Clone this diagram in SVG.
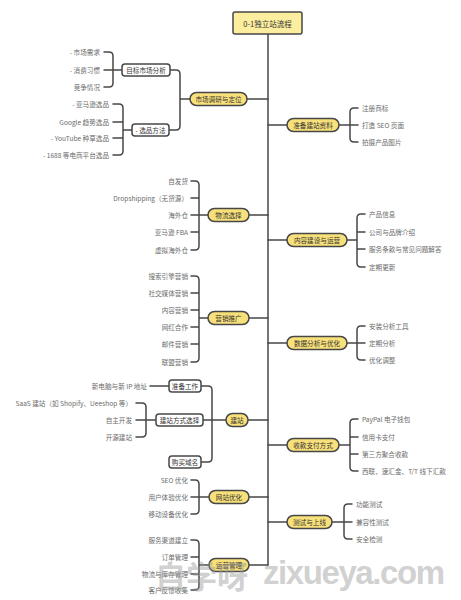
<svg xmlns="http://www.w3.org/2000/svg" width="461" height="600" viewBox="0 0 461 600">
<style>
.ln{fill:none;stroke:#474747;stroke-width:1.5;stroke-linecap:round;stroke-linejoin:round}
.pill{fill:#f8e07a;stroke:#474747;stroke-width:1.5}
.box{fill:#fff;stroke:#474747;stroke-width:1.5}
.root{fill:#fcee9e;stroke:#474747;stroke-width:1.5}
text{font-family:"Noto Sans CJK SC","Noto Sans",sans-serif;font-size:6.6px;dominant-baseline:central}
.pt{fill:#333;text-anchor:middle}
.c{fill:#6b6b6b}
.l{text-anchor:end}
.wm{fill:#9a9a9a;opacity:0.45;dominant-baseline:auto}
</style>
<rect width="461" height="600" fill="#fff"/>
<g id="connectors">
<path class="ln" d="M268 34 V565"/>
<path class="ln" d="M247 99 H268 M249 215 H268 M249 318 H268 M248 420 H268 M249 497 H268 M249 565 H268"/>
<path class="ln" d="M268 125 H287 M268 240 H287 M268 343 H287 M268 445 H287 M268 522 H287"/>
<path class="ln" d="M170 70 H176 Q180 70 180 74 V126 Q180 130 176 130 H169 M180 99 H190"/>
<path class="ln" d="M104 52 H109 Q113 52 113 56 V83 Q113 87 109 87 H104 M104 70 H122"/>
<path class="ln" d="M113 104 H119 Q123 104 123 108 V151 Q123 155 119 155 H113 M113 122 H123 M113 138 H123 M123 130 H132"/>
<path class="ln" d="M191 181 H195 Q199 181 199 185 V246 Q199 250 195 250 H191 M191 198 H199 M191 215 H208 M191 232 H199"/>
<path class="ln" d="M191 276 H195 Q199 276 199 280 V358 Q199 362 195 362 H191 M191 293 H199 M191 310 H199 M191 327 H199 M191 344 H199 M199 318 H208"/>
<path class="ln" d="M201 386 H208 Q212 386 212 390 V458 Q212 462 208 462 H201 M203 420 H226"/>
<path class="ln" d="M150 386 H169"/>
<path class="ln" d="M136 403 H142 Q146 403 146 407 V433 Q146 437 142 437 H136 M136 420 H156"/>
<path class="ln" d="M191 480 H195 Q199 480 199 484 V510 Q199 514 195 514 H191 M191 497 H209"/>
<path class="ln" d="M191 540 H195 Q199 540 199 544 V586 Q199 590 195 590 H191 M191 557 H199 M191 574 H199 M199 565 H209"/>
<path class="ln" d="M358 108 H354 Q350 108 350 112 V138 Q350 142 354 142 H358 M339 125 H358"/>
<path class="ln" d="M365 214 H361 Q357 214 357 218 V263 Q357 267 361 267 H365 M365 232 H357 M365 249 H357 M347 240 H357"/>
<path class="ln" d="M365 326 H361 Q357 326 357 330 V356 Q357 360 361 360 H365 M347 343 H365"/>
<path class="ln" d="M358 419 H354 Q350 419 350 423 V467 Q350 471 354 471 H358 M358 437 H350 M358 454 H350 M339 445 H350"/>
<path class="ln" d="M352 504 H348 Q344 504 344 508 V535 Q344 539 348 539 H352 M332 522 H352"/>
</g>
<g id="root"><rect class="root" x="233" y="12" width="69" height="22" rx="2"/><text class="pt" x="267.5" y="23" style="font-size:7.5px">0-1独立站流程</text></g>
<g id="n-market"><rect class="pill" x="190" y="92.5" width="57" height="13" rx="6.5"/><text class="pt" x="218.5" y="99">市场调研与定位</text></g>
<g id="n-target"><rect class="box" x="122" y="64" width="48" height="12" rx="3"/><text class="pt" x="146" y="70">目标市场分析</text>
<text class="c l" x="100" y="52">- 市场需求</text><text class="c l" x="100" y="70">- 消费习惯</text><text class="c l" x="100" y="87">竞争情况</text></g>
<g id="n-select"><rect class="box" x="132" y="124" width="37" height="12" rx="3"/><text class="pt" x="150.5" y="130">- 选品方法</text>
<text class="c l" x="109" y="104">- 亚马逊选品</text><text class="c l" x="109" y="122">Google 趋势选品</text><text class="c l" x="109" y="138">- YouTube 种草选品</text><text class="c l" x="109" y="155">- 1688 等电商平台选品</text></g>
<g id="n-logistics"><rect class="pill" x="208" y="208.5" width="41" height="13" rx="6.5"/><text class="pt" x="228.5" y="215">物流选择</text>
<text class="c l" x="188" y="181">自发货</text><text class="c l" x="188" y="198">Dropshipping（无货源）</text><text class="c l" x="188" y="215">海外仓</text><text class="c l" x="188" y="232">亚马逊 FBA</text><text class="c l" x="188" y="250">虚拟海外仓</text></g>
<g id="n-promo"><rect class="pill" x="208" y="311.5" width="41" height="13" rx="6.5"/><text class="pt" x="228.5" y="318">营销推广</text>
<text class="c l" x="188" y="276">搜索引擎营销</text><text class="c l" x="188" y="293">社交媒体营销</text><text class="c l" x="188" y="310">内容营销</text><text class="c l" x="188" y="327">网红合作</text><text class="c l" x="188" y="344">邮件营销</text><text class="c l" x="188" y="362">联盟营销</text></g>
<g id="n-build"><rect class="pill" x="226" y="413.5" width="22" height="13" rx="6.5"/><text class="pt" x="237" y="420">建站</text></g>
<g id="n-prep"><rect class="box" x="169" y="380" width="32" height="12" rx="3"/><text class="pt" x="185" y="386">准备工作</text><text class="c l" x="147" y="386">新电脑与新 IP 地址</text></g>
<g id="n-way"><rect class="box" x="156" y="414" width="47" height="12" rx="3"/><text class="pt" x="179.5" y="420">建站方式选择</text>
<text class="c l" x="132" y="403">SaaS 建站（如 Shopify、Ueeshop 等）</text><text class="c l" x="132" y="420">自主开发</text><text class="c l" x="132" y="437">开源建站</text></g>
<g id="n-domain"><rect class="box" x="169" y="456" width="32" height="12" rx="3"/><text class="pt" x="185" y="462">购买域名</text></g>
<g id="n-opt"><rect class="pill" x="209" y="490.5" width="40" height="13" rx="6.5"/><text class="pt" x="229" y="497">网站优化</text>
<text class="c l" x="188" y="480">SEO 优化</text><text class="c l" x="188" y="497">用户体验优化</text><text class="c l" x="188" y="514">移动设备优化</text></g>
<g id="n-ops"><rect class="pill" x="209" y="558.5" width="40" height="13" rx="6.5"/><text class="pt" x="229" y="565">运营管理</text>
<text class="c l" x="188" y="540">服务渠道建立</text><text class="c l" x="188" y="557">订单管理</text><text class="c l" x="188" y="574">物流与库存管理</text><text class="c l" x="188" y="590">客户反馈收集</text></g>
<g id="n-material"><rect class="pill" x="287" y="118.5" width="52" height="13" rx="6.5"/><text class="pt" x="313" y="125">准备建站资料</text>
<text class="c" x="362" y="108">注册商标</text><text class="c" x="362" y="125">打造 SEO 页面</text><text class="c" x="362" y="142">拍摄产品图片</text></g>
<g id="n-content"><rect class="pill" x="287" y="233.5" width="60" height="13" rx="6.5"/><text class="pt" x="317" y="240">内容建设与运营</text>
<text class="c" x="369" y="214">产品信息</text><text class="c" x="369" y="232">公司与品牌介绍</text><text class="c" x="369" y="249">服务条款与常见问题解答</text><text class="c" x="369" y="267">定期更新</text></g>
<g id="n-data"><rect class="pill" x="287" y="336.5" width="60" height="13" rx="6.5"/><text class="pt" x="317" y="343">数据分析与优化</text>
<text class="c" x="369" y="326">安装分析工具</text><text class="c" x="369" y="343">定期分析</text><text class="c" x="369" y="360">优化调整</text></g>
<g id="n-pay"><rect class="pill" x="287" y="438.5" width="52" height="13" rx="6.5"/><text class="pt" x="313" y="445">收款支付方式</text>
<text class="c" x="362" y="419">PayPal 电子钱包</text><text class="c" x="362" y="437">信用卡支付</text><text class="c" x="362" y="454">第三方聚合收款</text><text class="c" x="362" y="471">西联、速汇金、T/T 线下汇款</text></g>
<g id="n-test"><rect class="pill" x="287" y="515.5" width="45" height="13" rx="6.5"/><text class="pt" x="309.5" y="522">测试与上线</text>
<text class="c" x="356" y="504">功能测试</text><text class="c" x="356" y="522">兼容性测试</text><text class="c" x="356" y="539">安全检测</text></g>
<g id="watermark">
<text class="wm" x="155" y="588" style="font-size:31px;font-weight:bold">自学呀</text>
<text class="wm" x="263" y="584" textLength="182" style="font-family:'Liberation Sans',sans-serif;font-size:33px;font-weight:bold">zixueya.com</text>
</g>
</svg>
